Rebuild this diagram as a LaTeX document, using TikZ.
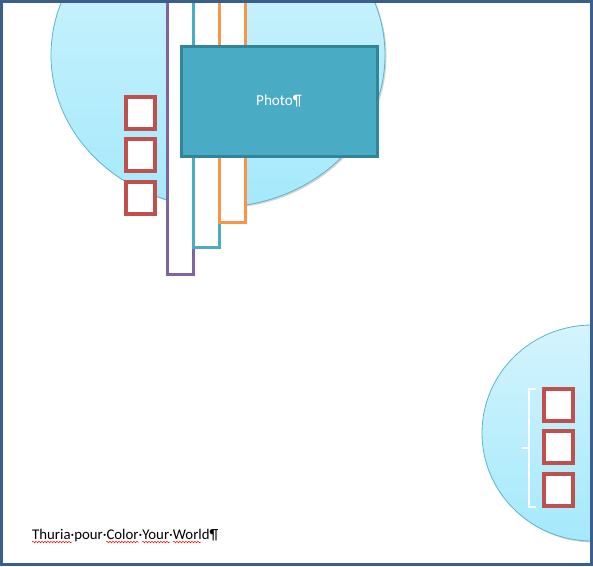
\documentclass[tikz,border=0pt]{standalone}
\usepackage{fontspec}
\setmainfont{Carlito}
\usetikzlibrary{shadows,decorations.pathmorphing}
\definecolor{frameblue}{HTML}{3A5F8F}
\definecolor{circtop}{HTML}{D4F4FD}
\definecolor{circbot}{HTML}{A4E9FC}
\definecolor{circline}{HTML}{5DB5CB}
\definecolor{redbox}{HTML}{C0504D}
\definecolor{purplebar}{HTML}{8064A2}
\definecolor{tealbar}{HTML}{4BACC6}
\definecolor{orangebar}{HTML}{F79646}
\definecolor{photofill}{HTML}{4AABC5}
\definecolor{photoline}{HTML}{31849B}
\tikzset{
  bubble/.style={draw=circline, line width=0.8pt, top color=circtop, bottom color=circbot, drop shadow={shadow xshift=1.5pt, shadow yshift=-1.5pt, opacity=0.35}},
  redsq/.style={draw=redbox, line width=3.2pt, fill=white, minimum width=29pt, minimum height=32pt, inner sep=0pt},
  bar/.style={line width=3pt, fill=white},
  squig/.style={draw=red, line width=0.5pt, decorate, decoration={snake, amplitude=0.7pt, segment length=3pt}}
}
\begin{document}
\begin{tikzpicture}[x=1pt,y=-1pt]
\useasboundingbox (0,0) rectangle (593,566);
\begin{scope}
\clip (1.5,1.5) rectangle (591,564);
% top bubble
\path[bubble] (218,55) ellipse [x radius=167, y radius=152];
% bottom-right bubble
\path[bubble] (592,433) ellipse [x radius=110, y radius=108];
\end{scope}
% bars
\draw[bar, draw=purplebar] (167.5,0) rectangle (193.5,274);
\draw[bar, draw=tealbar] (193.5,0) rectangle (219.5,247);
\draw[bar, draw=orangebar] (219.5,0) rectangle (245.5,222.5);
% photo
\node[draw=photoline, line width=3pt, fill=photofill, minimum width=196pt, minimum height=110pt, inner sep=0pt, text=white, font=\fontsize{15.2}{17}\selectfont] (photo) at (279,101) {Photo¶};
% left squares
\node[redsq] (l1) at (140.5,113) {};
\node[redsq] (l2) at (140.5,155) {};
\node[redsq] (l3) at (140.5,198) {};
% right squares
\node[redsq] (r1) at (558.5,405) {};
\node[redsq] (r2) at (558.5,447) {};
\node[redsq] (r3) at (558.5,490) {};
% bracket
\coordinate (bt) at (536,389);
\coordinate (bb) at (536,507);
\coordinate (bm) at (522,448);
\draw[white, line width=1.2pt] (bt) -- (529,389) -- (529,507) -- (bb);
\draw[white, line width=1.2pt] (529,448) -- (bm);
% caption
\node[anchor=base west, inner sep=0pt, font=\fontsize{14.8}{17}\selectfont] (cap) at (32,539) {Thuria·pour·Color·Your·World¶};
\draw[squig] (32,542) -- (72,542);
\draw[squig] (106,542) -- (139,542);
\draw[squig] (142,542) -- (170,542);
\draw[squig] (173,542) -- (201,542);
% frame
\draw[frameblue, line width=3pt] (1.5,1.5) rectangle (591.5,564);
\end{tikzpicture}
\end{document}
